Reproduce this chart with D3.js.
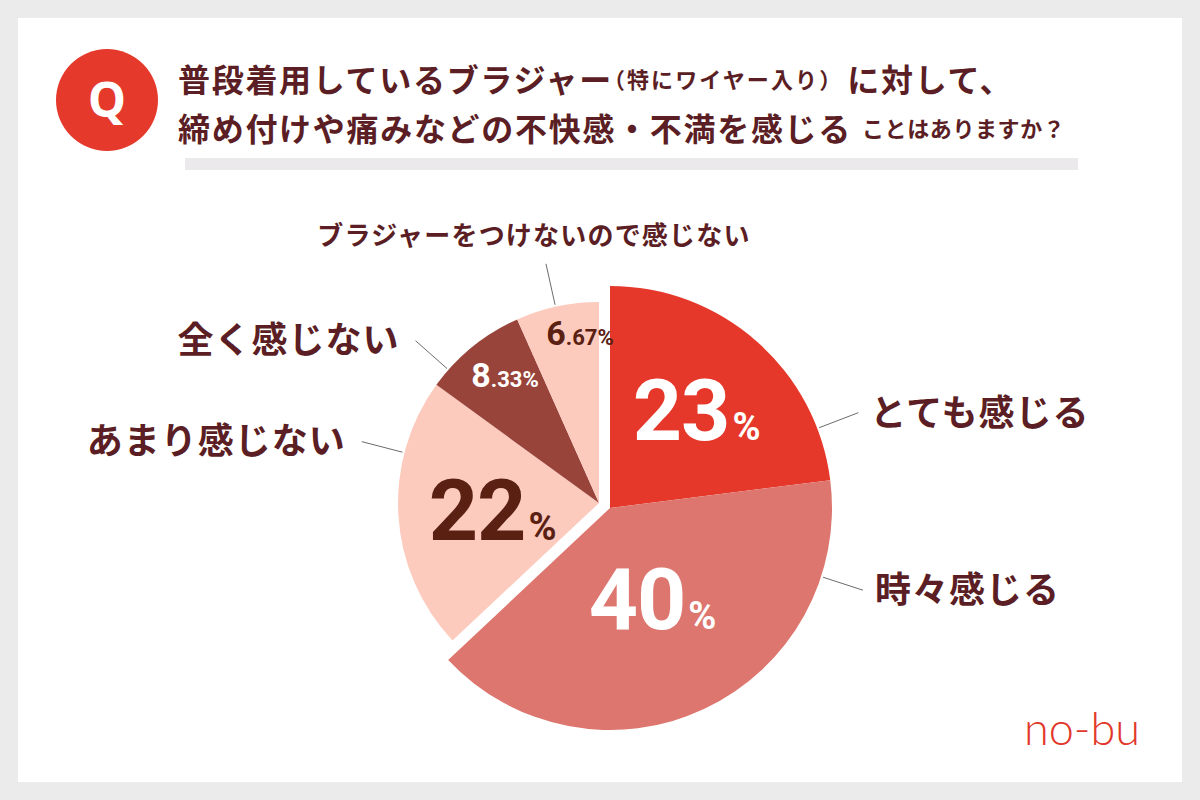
<!DOCTYPE html>
<html><head><meta charset="utf-8">
<script src="https://cdn.jsdelivr.net/npm/d3@7"></script>
<style>html,body{margin:0;padding:0;background:#ebebeb;} svg{display:block}</style>
</head><body><svg id="chart" width="1200" height="800"></svg>
<script>
// ---- data ----
const categories = ["とても感じる", "時々感じる", "あまり感じない", "全く感じない", "ブラジャーをつけないので感じない"];
const values = [23, 40, 22, 8.33, 6.67];
const titleLine1 = [["普段着用しているブラジャー", "big"], ["（特にワイヤー入り）", "small"], ["に対して、", "big"]];
const titleLine2 = [["締め付けや痛みなどの不快感・不満を感じる", "big"], ["ことはありますか？", "small"]];
const logoText = "no-bu";

// ---- style / layout ----
const sliceColors = ["#e5382b", "#dd766e", "#fccbbe", "#98443b", "#fccbbe"];
const valueColors = ["#ffffff", "#ffffff", "#5a2113", "#ffffff", "#5a2113"];
const inBigGroup = [true, true, false, false, false];
const labelRadiusFrac = [0.59, 0.45, 0.53, 0.79, 0.85];
const labelAngleOffsetDeg = [0, 0, 0, 2.7, 5.6];
const leaderAngleDeg = [69, 108, 284.5, 311.5, 347.5];
const labelSide = ["right", "right", "left", "left", "top"];
const textDark = "#5b1e24";
const cjk = "'Noto Sans CJK JP', 'Noto Sans', sans-serif";
const num = "Roboto, 'Noto Sans', sans-serif";

const svg = d3.select("#chart");
svg.append("rect").attr("x", 0).attr("y", 0).attr("width", 1200).attr("height", 800).attr("fill", "#ebebeb");
svg.append("rect").attr("x", 18).attr("y", 18).attr("width", 1164).attr("height", 764).attr("fill", "#ffffff");

// ---- title ----
svg.append("circle").attr("cx", 107).attr("cy", 100).attr("r", 51).attr("fill", "#e5392c");
svg.append("text").attr("x", 107).attr("y", 117).attr("text-anchor", "middle")
  .attr("font-family", "'Noto Sans', Roboto, sans-serif").attr("font-weight", 700)
  .attr("font-size", 48).attr("fill", "#fff").text("Q");

function titleLine(parts, y, smallSpacing) {
  const t = svg.append("text").attr("x", 178).attr("y", y)
    .attr("font-family", cjk).attr("font-weight", 700).attr("fill", textDark)
    .attr("dominant-baseline", "central");
  parts.forEach((p, i) => {
    const big = p[1] === "big";
    let dx = 0;
    if (i > 0) {
      if (big) dx = 4;                              // after small parenthetical
      else dx = (i === parts.length - 1) ? 10 : -10; // trailing small vs inline parenthetical
    }
    t.append("tspan")
      .attr("dx", dx)
      .attr("font-size", big ? 32 : 22)
      .attr("letter-spacing", big ? 1.7 : smallSpacing)
      .text(p[0]);
  });
}
titleLine(titleLine1, 78, 2.1);
titleLine(titleLine2, 127, 0.6);
svg.append("rect").attr("x", 185).attr("y", 158).attr("width", 893).attr("height", 12).attr("fill", "#ebe9eb");

// ---- pie ----
const pie = d3.pie().sort(null).value(d => d.v).startAngle(0).endAngle(2 * Math.PI);
const data = pie(categories.map((c, i) => ({ c, v: values[i], i })));
const groups = {
  big: { cx: 610, cy: 508, r: 222 },
  small: { cx: 599, cy: 503, r: 201 }
};
const g = svg.append("g");
data.forEach((d, i) => {
  const G = inBigGroup[i] ? groups.big : groups.small;
  const arc = d3.arc().innerRadius(0).outerRadius(G.r);
  g.append("path").attr("transform", `translate(${G.cx},${G.cy})`)
    .attr("d", arc(d)).attr("fill", sliceColors[i]);
});

// leader lines and category labels
data.forEach((d, i) => {
  const G = inBigGroup[i] ? groups.big : groups.small;
  const a = leaderAngleDeg[i] * Math.PI / 180;
  const p = r => [G.cx + Math.sin(a) * r, G.cy - Math.cos(a) * r];
  const s = p(G.r + 2), e = p(G.r + 44);
  svg.append("line").attr("x1", s[0]).attr("y1", s[1]).attr("x2", e[0]).attr("y2", e[1])
    .attr("stroke", "#6b6b6b").attr("stroke-width", 1);
  let x, y, anchor, size = 36;
  if (labelSide[i] === "right") { x = e[0] + 12; y = e[1] - 3; anchor = "start"; }
  else if (labelSide[i] === "left") { x = e[0] - 16; y = e[1] - 4; anchor = "end"; }
  else { x = e[0] - 12; y = e[1] - 30; anchor = "middle"; size = 26; }
  svg.append("text").attr("x", x).attr("y", y).attr("text-anchor", anchor)
    .attr("dominant-baseline", "central")
    .attr("font-family", cjk).attr("font-weight", 700).attr("font-size", size)
    .attr("letter-spacing", size > 30 ? 1 : 1.2).attr("fill", textDark)
    .text(categories[i]);
});

// value labels
data.forEach((d, i) => {
  const G = inBigGroup[i] ? groups.big : groups.small;
  const mid = (d.startAngle + d.endAngle) / 2 + labelAngleOffsetDeg[i] * Math.PI / 180;
  const r = G.r * labelRadiusFrac[i];
  const cx = G.cx + Math.sin(mid) * r, cy = G.cy - Math.cos(mid) * r;
  const v = values[i];
  const parts = String(v).split(".");
  const isInt = parts.length === 1;
  const mainSize = isInt ? 86 : 34;
  const subSize = isInt ? 38 : 22;
  const t = svg.append("text").attr("x", cx).attr("y", cy + mainSize * 0.711 / 2)
    .attr("text-anchor", "middle").attr("font-family", num).attr("font-weight", 700)
    .attr("fill", valueColors[i]);
  t.append("tspan").attr("font-size", mainSize).attr("letter-spacing", isInt ? -1 : 0).text(parts[0]);
  t.append("tspan").attr("font-size", subSize).attr("dx", isInt ? 3 : 0)
    .text((isInt ? "" : "." + parts[1]) + "%");
});

// logo
svg.append("text").attr("x", 1140).attr("y", 745).attr("text-anchor", "end")
  .attr("font-family", "Lato, 'Open Sans', sans-serif").attr("font-weight", 300)
  .attr("font-size", 45).attr("fill", "#e2372b").text(logoText);
</script>
</body></html>
